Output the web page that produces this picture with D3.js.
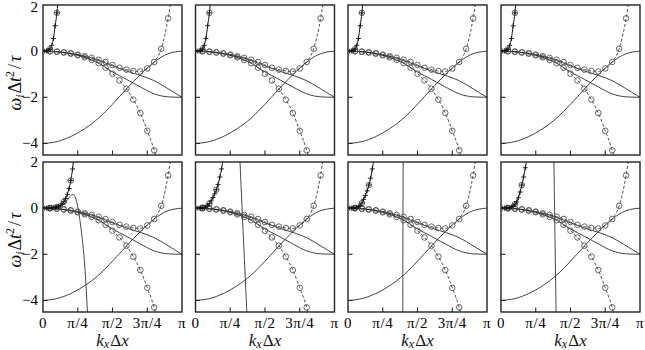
<!DOCTYPE html>
<html><head><meta charset="utf-8">
<script src="https://cdn.jsdelivr.net/npm/d3@7"></script>
<style>body{margin:0;background:#fff}svg{display:block}</style>
</head><body>
<script>
// k values are in units of pi
const kStep05 = [0,.05,.1,.15,.2,.25,.3,.35,.4,.45,.5,.55,.6,.65,.7,.75,.8,.85,.9,.95];
const kStep10 = [0,.1,.2,.3,.4,.5,.6,.7,.8,.9,1];
const kFine = [0,.0125,.025,.0375,.05,.0625,.075,.0875,.1,.1125,.125,.1375,.15,.1625,.175,.1875,.2,.2125,.225];

// dashed series with circles (upper branch)
const seriesD = [0,-0.005,-0.02,-0.05,-0.09,-0.15,-0.22,-0.29,-0.37,-0.47,-0.6,-0.72,-0.8,-0.86,-0.88,-0.75,-0.47,0.1,1.42,3.6];
// dashed series with circles (lower branch)
const seriesE = [0,-0.005,-0.025,-0.06,-0.11,-0.18,-0.27,-0.38,-0.52,-0.72,-0.98,-1.27,-1.63,-2.1,-2.68,-3.45,-4.3,-5.6];
// solid curves
const seriesA = [-4,-3.92,-3.7,-3.36,-2.9,-2.3,-1.64,-1.02,-0.47,-0.11,0];
const seriesB = [0,-0.025,-0.1,-0.22,-0.4,-0.64,-0.86,-1.05,-1.28,-1.63,-2];
const seriesC = [0,-0.03,-0.12,-0.27,-0.52,-0.9,-1.22,-1.55,-1.85,-1.98,-2];

// rising branch with + markers (top row shared, bottom row per panel)
const riseTop = [0,0,0.01,0.03,0.08,0.25,0.55,1.1,1.66,2.5];
const riseBottom1 = [0,0,0,0,0.01,0.01,0.02,0.03,0.05,0.08,0.12,0.18,0.28,0.42,0.6,0.85,1.2,1.7,2.4];
const riseBottom2 = [0,0,0,0.01,0.02,0.03,0.06,0.12,0.2,0.32,0.46,0.62,0.8,1.02,1.35,1.7,2.2];
const riseBottom3 = [0,0,0,0.005,0.01,0.03,0.06,0.12,0.22,0.38,0.55,0.75,1.0,1.3,1.7,2.2];
const riseBottom4 = [0,0,0,0.005,0.01,0.02,0.05,0.1,0.17,0.27,0.45,0.7,1.0,1.35,1.75,2.15];

// steep curve in bottom row
const steepK1 = [0,.05,.1,.125,.15,.175,.2,.215,.23,.245,.26,.275,.29,.305,.32,.33];
const steepV1 = [0,0,0.02,0.06,0.17,0.35,0.55,0.6,0.5,0.2,-0.3,-0.95,-1.75,-2.9,-4.5,-5.5];
const steepK2 = [0.318,0.344,0.371], steepV2 = [2.3,-1.2,-4.7];
const steepK3 = [0.397,0.395,0.394], steepV3 = [2.3,-1.2,-4.7];
const steepK4 = [0.380,0.388,0.397], steepV4 = [2.3,-1.2,-4.7];

const yTicks = [2,0,-2,-4];
const yTickLabels = ["2","0","\u22122","\u22124"];
const xTicks = [0,.25,.5,.75,1];
const xTickLabels = ["0","\u03c0/4","\u03c0/2","3\u03c0/4","\u03c0"];

const W=645,H=350;
const svg=d3.select("body").append("svg").attr("width",W).attr("height",H);
const font="'Liberation Serif','DejaVu Serif',serif";
const colX=[43,195.5,348,501], pw=139;
const rowY=[5,162], ph=150;

const riseBottom=[riseBottom1,riseBottom2,riseBottom3,riseBottom4];
const steep=[[steepK1,steepV1],[steepK2,steepV2],[steepK3,steepV3],[steepK4,steepV4]];

function pts(ks,vs){return vs.map((v,i)=>[ks[i],v]);}

let cid=0;
for(let r=0;r<2;r++){
  for(let c=0;c<4;c++){
    const x=d3.scaleLinear().domain([0,1]).range([colX[c],colX[c]+pw]);
    const y=d3.scaleLinear().domain([-4.5,2]).range([rowY[r]+ph,rowY[r]]);
    const id="clip"+(cid++);
    svg.append("clipPath").attr("id",id).append("rect")
      .attr("x",colX[c]).attr("y",rowY[r]).attr("width",pw).attr("height",ph);
    const g=svg.append("g").attr("clip-path",`url(#${id})`);
    const line=d3.line().x(d=>x(d[0])).y(d=>y(d[1])).curve(d3.curveMonotoneX);
    const lin=d3.line().x(d=>x(d[0])).y(d=>y(d[1]));

    const solid=(data,w,col,gen)=>g.append("path").attr("d",(gen||line)(data))
      .attr("fill","none").attr("stroke",col||"#111").attr("stroke-width",w||0.8);
    solid(pts(kStep10,seriesA));
    solid(pts(kStep10,seriesB));
    solid(pts(kStep10,seriesC));
    const dD=pts(kStep05,seriesD), dE=pts(kStep05,seriesE);
    [dD,dE].forEach(d=>{
      g.append("path").attr("d",line(d)).attr("fill","none").attr("stroke","#222")
        .attr("stroke-width",0.8).attr("stroke-dasharray","3,2");
    });
    const rv = r===0?riseTop:riseBottom[c];
    const dF=pts(kFine,rv);
    solid(dF,1.0,"#111");
    if(r===1){
      const s=steep[c];
      solid(pts(s[0],s[1]),0.9,"#333",c===0?line:lin);
    }
    const circ=[...dD.slice(1),...dE.slice(1),...dF.filter((d,i)=>i>0 && i%4===0)];
    g.selectAll(null).data(circ).enter().append("circle")
      .attr("cx",d=>x(d[0])).attr("cy",d=>y(d[1])).attr("r",2.8)
      .attr("fill","none").attr("stroke","#555").attr("stroke-width",0.9);
    g.selectAll(null).data(dF.slice(1)).enter().append("path")
      .attr("d",d=>{const X=x(d[0]),Y=y(d[1]);return `M${X-2.5},${Y}H${X+2.5}M${X},${Y-2.5}V${Y+2.5}`;})
      .attr("stroke","#111").attr("stroke-width",0.9);

    svg.append("rect").attr("x",colX[c]).attr("y",rowY[r]).attr("width",pw).attr("height",ph)
      .attr("fill","none").attr("stroke","#222").attr("stroke-width",1.4);
    svg.selectAll(null).data([.25,.5,.75]).enter().append("line")
      .attr("x1",d=>x(d)).attr("x2",d=>x(d)).attr("y1",rowY[r]+ph).attr("y2",rowY[r]+ph-4.5)
      .attr("stroke","#222").attr("stroke-width",1.1);
    svg.selectAll(null).data([0,-2,-4]).enter().append("line")
      .attr("x1",colX[c]).attr("x2",colX[c]+4.5).attr("y1",d=>y(d)).attr("y2",d=>y(d))
      .attr("stroke","#222").attr("stroke-width",1.1);

    if(c===0){
      svg.selectAll(null).data(yTicks).enter().append("text")
        .attr("x",colX[c]-5).attr("y",d=>Math.max(y(d)+5,12))
        .attr("text-anchor","end").attr("font-family",font).attr("font-size",15)
        .text((d,i)=>yTickLabels[i]);
      const yl=svg.append("text").attr("transform",`translate(21,${rowY[r]+78}) rotate(-90)`)
        .attr("text-anchor","middle").attr("font-family",font).attr("font-size",18).attr("fill","#111");
      yl.append("tspan").attr("font-style","italic").text("\u03c9");
      yl.append("tspan").attr("font-style","italic").attr("font-size",12).attr("dy",3).text("i");
      yl.append("tspan").attr("dy",-3).attr("dx",1).text("\u0394");
      yl.append("tspan").attr("font-style","italic").text("t");
      yl.append("tspan").attr("font-size",12).attr("dy",-7).text("2");
      yl.append("tspan").attr("dy",7).attr("dx",2).text("/");
      yl.append("tspan").attr("font-style","italic").attr("dx",2).text("\u03c4");
    }
    if(r===1){
      svg.selectAll(null).data(xTicks).enter().append("text")
        .attr("x",d=>x(d)).attr("y",328)
        .attr("text-anchor","middle").attr("font-family",font).attr("font-size",15)
        .attr("letter-spacing",0.6)
        .text((d,i)=>xTickLabels[i]);
      const xl=svg.append("text").attr("x",colX[c]+pw/2).attr("y",346)
        .attr("text-anchor","middle").attr("font-family",font).attr("font-size",17).attr("fill","#111");
      xl.append("tspan").attr("font-style","italic").text("k");
      xl.append("tspan").attr("font-style","italic").attr("font-size",12).attr("dy",1.5).text("x");
      xl.append("tspan").attr("dy",-1.5).attr("dx",1).text("\u0394");
      xl.append("tspan").attr("font-style","italic").text("x");
    }
  }
}
</script>
</body></html>
